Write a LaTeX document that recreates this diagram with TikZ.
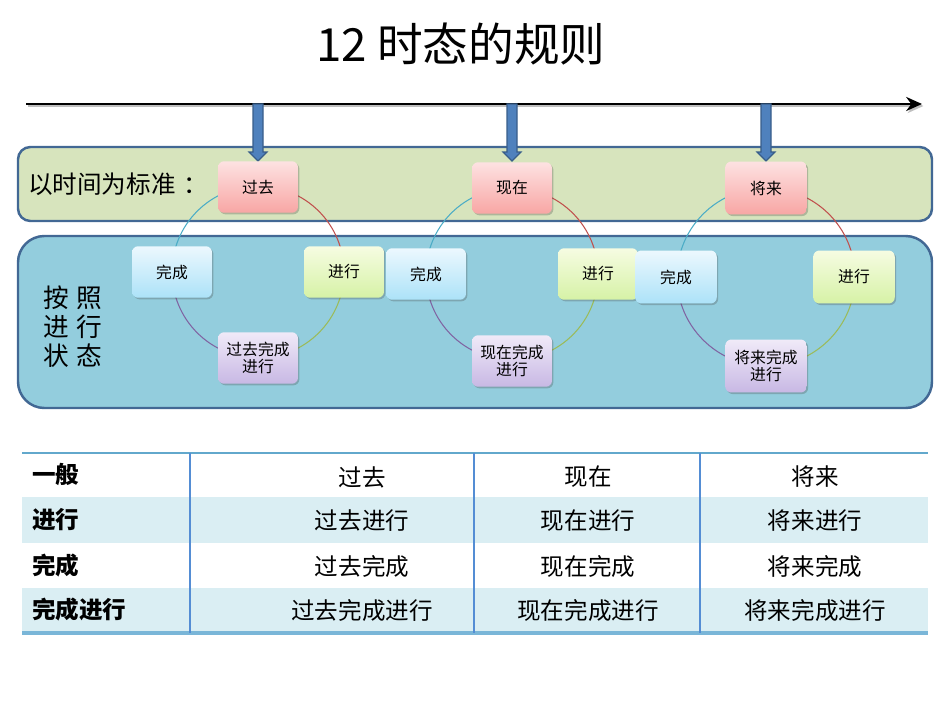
\documentclass[tikz,border=0pt]{standalone}
\usepackage{fontspec}
\setmainfont{Noto Sans CJK SC}
\usetikzlibrary{shadows,arrows.meta}
\definecolor{bandborder}{RGB}{66,104,148}
\definecolor{greenband}{RGB}{215,228,189}
\definecolor{blueband}{RGB}{147,205,221}
\definecolor{arrowfill}{RGB}{79,129,189}
\definecolor{arrowline}{RGB}{56,93,138}
\definecolor{pinkT}{RGB}{253,226,226}
\definecolor{pinkB}{RGB}{248,166,164}
\definecolor{blueT}{RGB}{236,248,254}
\definecolor{blueB}{RGB}{172,226,248}
\definecolor{greenT}{RGB}{246,252,226}
\definecolor{greenB}{RGB}{214,242,166}
\definecolor{purpT}{RGB}{240,234,248}
\definecolor{purpB}{RGB}{200,184,228}
\definecolor{arcA}{RGB}{75,172,198}
\definecolor{arcB}{RGB}{192,80,77}
\definecolor{arcC}{RGB}{155,187,89}
\definecolor{arcD}{RGB}{128,100,162}
\definecolor{rowfill}{RGB}{218,238,243}
\definecolor{tabline}{RGB}{84,141,212}
\definecolor{tabtop}{RGB}{98,168,204}
\definecolor{tabbot}{RGB}{122,182,216}
\begin{document}
\begin{tikzpicture}[x=0.02cm,y=-0.02cm,
  tnode/.style={rounded corners=3.5pt, minimum width=1.6cm, minimum height=1.03cm,
    inner sep=1pt, align=center, font=\fontsize{9}{9.5}\selectfont,
    drop shadow={shadow xshift=0.8pt, shadow yshift=-0.9pt, opacity=0.3, fill=black!70}},
  pinknode/.style={tnode, top color=pinkT, bottom color=pinkB},
  bluenode/.style={tnode, top color=blueT, bottom color=blueB},
  greennode/.style={tnode, top color=greenT, bottom color=greenB},
  purpnode/.style={tnode, top color=purpT, bottom color=purpB},
  arcline/.style={line width=0.6pt},
  blockarrow/.style={fill=arrowfill, draw=arrowline, line width=0.7pt},
  band/.style={draw=bandborder, line width=1.4pt},
  tabtext/.style={font=\fontsize{13.4}{15}\selectfont},
  tabhead/.style={font=\fontsize{13.4}{15}\selectfont\bfseries, anchor=west},
]
\useasboundingbox (0,0) rectangle (950,713);

% title
\node[font=\fontsize{26}{28}\selectfont] (title) at (461,44) {12 时态的规则};

% timeline
\coordinate (tlA) at (26,104);
\coordinate (tlB) at (922,104);
\draw[line width=1.7pt, black!25, -{Stealth[length=9pt,width=8pt]}] ([shift={(1.5,2)}]tlA) -- ([shift={(1.5,2)}]tlB);
\draw[line width=1.7pt, -{Stealth[length=9pt,width=8pt]}] (tlA) -- (tlB);

% bands
\draw[band, fill=greenband, rounded corners=7pt] (18,147) rectangle (932,221);
\draw[band, fill=blueband, rounded corners=15pt] (18,236) rectangle (932,408);

\node[font=\fontsize{14}{16}\selectfont, anchor=west] (std) at (22,184) {以时间为标准\hspace{4.5pt}：};
\node[font=\fontsize{14.6}{17}\selectfont, align=left, anchor=west] (state) at (37,327)
  {按\hspace{4.5pt}照\\[-0.5pt]进\hspace{4.5pt}行\\[-0.5pt]状\hspace{4.5pt}态};

% blue block arrows
\foreach \ax in {258,512,766}{
  \draw[blockarrow] (\ax-5,104) -- (\ax-5,152) -- (\ax-9,152) -- (\ax,161) -- (\ax+9,152) -- (\ax+5,152) -- (\ax+5,104) -- cycle;
}

% circles (arcs)
\coordinate (c1) at (258,272);
\coordinate (c2) at (512,274);
\coordinate (c3) at (766,277);
\foreach \c/\r in {c1/1.72cm, c2/1.72cm, c3/1.78cm}{
  \draw[arcline, arcA] (\c) ++(-\r,0) arc[start angle=180, end angle=90, radius=\r];
  \draw[arcline, arcB] (\c) ++(0,\r) arc[start angle=90, end angle=0, radius=\r];
  \draw[arcline, arcC] (\c) ++(\r,0) arc[start angle=0, end angle=-90, radius=\r];
  \draw[arcline, arcD] (\c) ++(0,-\r) arc[start angle=-90, end angle=-180, radius=\r];
}

% group 1
\node[pinknode] (past) at (258,187) {过去};
\node[bluenode] (pastperf) at (172,272) {完成};
\node[greennode] (pastprog) at (344,272) {进行};
\node[purpnode] (pastpp) at (258,358) {过去完成\\进行};
% group 2
\node[pinknode] (pres) at (512,188) {现在};
\node[bluenode] (presperf) at (426,274) {完成};
\node[greennode] (presprog) at (598,274) {进行};
\node[purpnode] (prespp) at (512,361) {现在完成\\进行};
% group 3
\node[pinknode, minimum width=1.63cm, minimum height=1.06cm] (fut) at (766,188) {将来};
\node[bluenode, minimum width=1.63cm, minimum height=1.06cm] (futperf) at (676,277) {完成};
\node[greennode, minimum width=1.63cm, minimum height=1.06cm] (futprog) at (854,277) {进行};
\node[purpnode, minimum width=1.63cm, minimum height=1.06cm] (futpp) at (766,366) {将来完成\\进行};

% table
\fill[rowfill] (22,497) rectangle (928,543);
\fill[rowfill] (22,588) rectangle (928,633);
\draw[tabtop, line width=0.9pt] (22,453) -- (928,453);
\draw[tabbot, line width=2pt] (22,633) -- (928,633);
\foreach \vx in {190,474,700}{
  \draw[tabline, line width=0.6pt] (\vx,453) -- (\vx,633);
}
\node[tabhead] (h1) at (26,475) {一般};
\node[tabhead] (h2) at (26,520) {进行};
\node[tabhead] (h3) at (26,566) {完成};
\node[tabhead] (h4) at (26,610) {完成进行};

\node[tabtext] (t11) at (362,477) {过去};
\node[tabtext] (t12) at (588,477) {现在};
\node[tabtext] (t13) at (815,477) {将来};
\node[tabtext] (t21) at (362,521) {过去进行};
\node[tabtext] (t22) at (588,521) {现在进行};
\node[tabtext] (t23) at (815,521) {将来进行};
\node[tabtext] (t31) at (362,567) {过去完成};
\node[tabtext] (t32) at (588,567) {现在完成};
\node[tabtext] (t33) at (815,567) {将来完成};
\node[tabtext] (t41) at (362,611) {过去完成进行};
\node[tabtext] (t42) at (588,611) {现在完成进行};
\node[tabtext] (t43) at (815,611) {将来完成进行};
\end{tikzpicture}
\end{document}
